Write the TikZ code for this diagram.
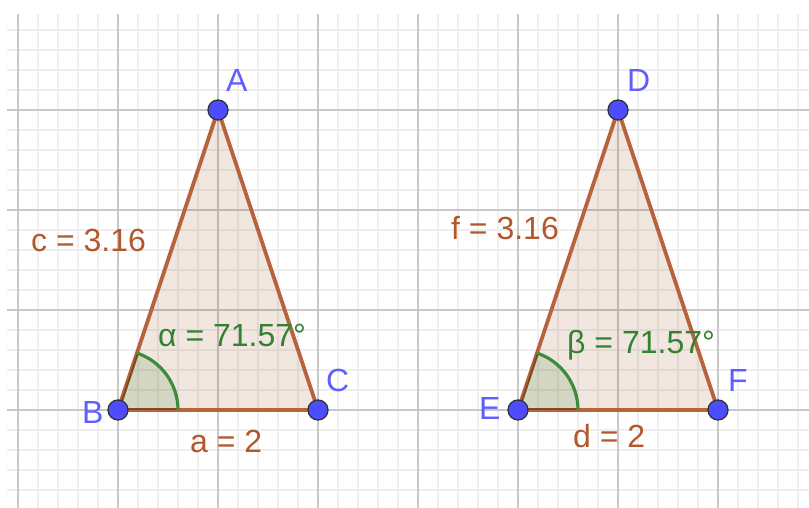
\documentclass[tikz,border=0pt]{standalone}
\usepackage{fontspec}
\setmainfont{Liberation Sans}
\definecolor{gmin}{RGB}{238,238,238}
\definecolor{gmaj}{RGB}{200,200,200}
\definecolor{edgec}{RGB}{182,100,60}
\definecolor{edgedark}{RGB}{125,75,30}
\definecolor{polyc}{RGB}{153,51,0}
\definecolor{labc}{RGB}{178,88,45}
\definecolor{angc}{RGB}{0,100,0}
\definecolor{arcc}{RGB}{60,140,60}
\definecolor{ptc}{RGB}{77,77,255}
\definecolor{ptlab}{RGB}{95,95,255}
\definecolor{angtxt}{RGB}{50,130,50}
\tikzset{
  minorline/.style={draw=gmin, line width=1.2pt},
  majorline/.style={draw=gmaj, line width=1.6pt},
  trifill/.style={fill=polyc, fill opacity=0.12},
  triedge/.style={draw=edgec, line width=3.8pt, line join=round},
  sector/.style={fill=angc, fill opacity=0.12},
  arcline/.style={draw=arcc, line width=3.2pt},
  pt/.style={circle, fill=ptc, draw=black!80, line width=1.3pt, minimum size=20pt, inner sep=0pt},
  ptname/.style={text=ptlab, font=\fontsize{32}{36}\selectfont, inner sep=0pt, anchor=base west},
  seglab/.style={text=labc, font=\fontsize{32}{36}\selectfont, inner sep=0pt, anchor=base west},
  anglab/.style={text=angtxt, font=\fontsize{32}{36}\selectfont, inner sep=0pt, anchor=base west},
}
\begin{document}
\begin{tikzpicture}[x=1pt,y=1pt]
\useasboundingbox (0,0) rectangle (809,508);
\fill[white] (0,0) rectangle (809,508);
% grid (y = 508 - pixel row)
\foreach \x in {38,58,78,98,138,158,178,198,238,258,278,298,338,358,378,398,438,458,478,498,538,558,578,598,638,658,678,698,738,758,778,798}
  \draw[minorline] (\x,0) -- (\x,494);
\foreach \y in {18,38,58,78,118,138,158,178,218,238,258,278,318,338,358,378,418,438,458,478}
  \draw[minorline] (7,\y) -- (809,\y);
\foreach \x in {18,118,218,318,418,518,618,718}
  \draw[majorline] (\x,0) -- (\x,494);
\foreach \y in {98,198,298,398}
  \draw[majorline] (7,\y) -- (809,\y);
% vertices
\coordinate (A) at (218,398);
\coordinate (B) at (118,98);
\coordinate (C) at (318,98);
\coordinate (D) at (618,398);
\coordinate (E) at (518,98);
\coordinate (F) at (718,98);
% triangle fills
\fill[trifill] (A) -- (B) -- (C) -- cycle;
\fill[trifill] (D) -- (E) -- (F) -- cycle;
% edges
\draw[triedge] (A) -- (B) -- (C) -- cycle;
\draw[triedge] (D) -- (E) -- (F) -- cycle;
% angle sectors
\fill[sector] (B) -- ++(60,0) arc[start angle=0, end angle=71.57, radius=60pt] -- cycle;
\begin{scope}
  \clip (B) -- ++(60,0) arc[start angle=0, end angle=71.57, radius=60pt] -- cycle;
  \draw[triedge, draw=edgedark] (A) -- (B) -- (C);
\end{scope}
\draw[arcline] ([shift={(0:60pt)}]B) arc[start angle=0, end angle=71.57, radius=60pt];
\fill[sector] (E) -- ++(60,0) arc[start angle=0, end angle=71.57, radius=60pt] -- cycle;
\begin{scope}
  \clip (E) -- ++(60,0) arc[start angle=0, end angle=71.57, radius=60pt] -- cycle;
  \draw[triedge, draw=edgedark] (D) -- (E) -- (F);
\end{scope}
\draw[arcline] ([shift={(0:60pt)}]E) arc[start angle=0, end angle=71.57, radius=60pt];
% points
\node[pt] (pA) at (A) {};
\node[pt] (pB) at (B) {};
\node[pt] (pC) at (C) {};
\node[pt] (pD) at (D) {};
\node[pt] (pE) at (E) {};
\node[pt] (pF) at (F) {};
% point names
\node[ptname] (lA) at (226,416) {A};
\node[ptname] (lB) at (82,84) {B};
\node[ptname] (lC) at (326,116) {C};
\node[ptname] (lD) at (627,416) {D};
\node[ptname] (lE) at (479,88) {E};
\node[ptname] (lF) at (728,116) {F};
% segment labels
\node[seglab] (lc) at (31,256) {c = 3.16};
\node[seglab] (la) at (190,55) {a = 2};
\node[seglab] (lf) at (451,268) {f = 3.16};
\node[seglab] (ld) at (573,60) {d = 2};
% angle labels
\node[anglab] (lal) at (158,161) {α = 71.57°};
\node[anglab] (lbe) at (567,154) {β = 71.57°};
\end{tikzpicture}
\end{document}
